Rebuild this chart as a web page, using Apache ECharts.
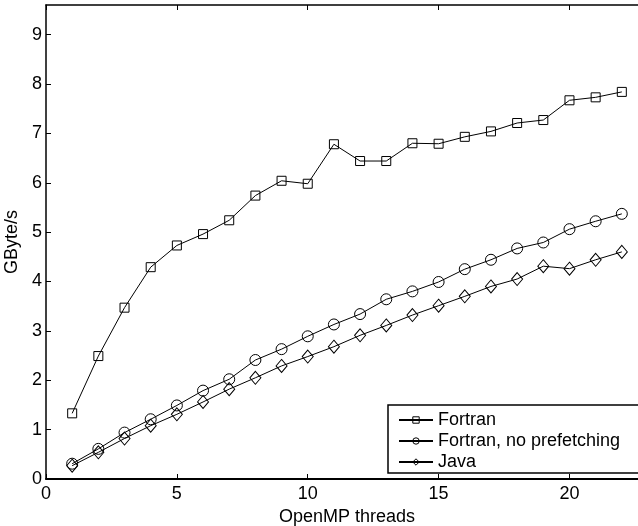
<!DOCTYPE html>
<html>
<head>
<meta charset="utf-8">
<script src="https://cdn.jsdelivr.net/npm/echarts@6/dist/echarts.min.js"></script>
<style>
  html, body { margin: 0; padding: 0; background: #fff; }
  #chart { width: 638px; height: 526px; }
</style>
</head>
<body>
<div id="chart"></div>
<script>
// threads on the x axis
const threads = [1, 2, 3, 4, 5, 6, 7, 8, 9, 10, 11, 12, 13, 14, 15, 16, 17, 18, 19, 20, 21, 22]
// GByte/s per series
const fortran = [1.33, 2.49, 3.47, 4.29, 4.73, 4.96, 5.24, 5.74, 6.04, 5.98, 6.78, 6.44, 6.44, 6.80, 6.79, 6.93, 7.04, 7.21, 7.27, 7.67, 7.73, 7.84]
const fortranNoPrefetch = [0.31, 0.61, 0.94, 1.21, 1.49, 1.79, 2.02, 2.41, 2.63, 2.89, 3.13, 3.34, 3.64, 3.80, 3.99, 4.25, 4.44, 4.67, 4.79, 5.06, 5.22, 5.37]
const java = [0.27, 0.54, 0.82, 1.08, 1.31, 1.56, 1.82, 2.05, 2.29, 2.48, 2.68, 2.91, 3.11, 3.32, 3.51, 3.70, 3.90, 4.05, 4.31, 4.26, 4.44, 4.60]

const font = 'Liberation Sans, Arial, sans-serif'
const fs = 18
const chart = echarts.init(document.getElementById('chart'))

const pairs = (ys) => threads.map((x, i) => [x, ys[i]])

const hollow = { color: 'rgba(0,0,0,0)', borderColor: '#000', borderWidth: 1 }

// hollow markers, the line shows through them
const lineSeries = (name, symbol, size, ys) => ({
  name: name,
  type: 'line',
  data: pairs(ys),
  symbol: symbol,
  symbolSize: size,
  showAllSymbol: true,
  animation: false,
  lineStyle: { color: '#000', width: 1 },
  itemStyle: hollow,
  emphasis: { disabled: true },
})

chart.setOption({
  backgroundColor: '#fff',
  textStyle: { fontFamily: font },
  // plot runs past the right edge of the canvas, like the original
  grid: { left: 46, top: 5, width: 602, height: 474, outerBoundsMode: 'none', containLabel: false },
  legend: {
    left: 388,
    top: 405,
    orient: 'vertical',
    backgroundColor: '#fff',
    borderColor: '#000',
    borderWidth: 1.5,
    borderRadius: 0,
    padding: [6, 24, 2, 10],
    itemGap: 3,
    itemWidth: 34,
    itemHeight: 8,
    itemStyle: hollow,
    textStyle: { fontFamily: font, fontSize: fs, color: '#000' },
    data: ['Fortran', 'Fortran, no prefetching', 'Java'],
  },
  xAxis: [
    {
      type: 'value',
      min: 0,
      max: 23,
      interval: 5,
      name: 'OpenMP threads',
      nameLocation: 'middle',
      nameGap: 25,
      nameTextStyle: { fontFamily: font, fontSize: fs, color: '#000' },
      axisLine: { lineStyle: { color: '#000', width: 2 } },
      axisTick: { inside: true, length: 5, lineStyle: { color: '#000', width: 1 } },
      axisLabel: { fontFamily: font, fontSize: fs, color: '#000', margin: 6, showMaxLabel: false },
      splitLine: { show: false },
    },
    {
      type: 'value',
      position: 'top',
      min: 0,
      max: 23,
      interval: 5,
      axisLine: { lineStyle: { color: '#000', width: 1.5 } },
      axisTick: { inside: true, length: 5, lineStyle: { color: '#000', width: 1 } },
      axisLabel: { show: false },
      splitLine: { show: false },
    },
  ],
  yAxis: {
    type: 'value',
    min: 0,
    max: 9.6,
    interval: 1,
    name: 'GByte/s',
    nameLocation: 'middle',
    nameGap: 17,
    nameTextStyle: { fontFamily: font, fontSize: fs, color: '#000' },
    axisLine: { show: true, lineStyle: { color: '#000', width: 1.5 } },
    axisTick: { show: true, inside: true, length: 5, lineStyle: { color: '#000', width: 1 } },
    axisLabel: { fontFamily: font, fontSize: fs, color: '#000', margin: 4, showMaxLabel: false },
    splitLine: { show: false },
  },
  series: [
    lineSeries('Fortran', 'rect', 9, fortran),
    lineSeries('Fortran, no prefetching', 'circle', 11, fortranNoPrefetch),
    lineSeries('Java', 'diamond', [11, 13], java),
  ],
})
</script>
</body>
</html>
